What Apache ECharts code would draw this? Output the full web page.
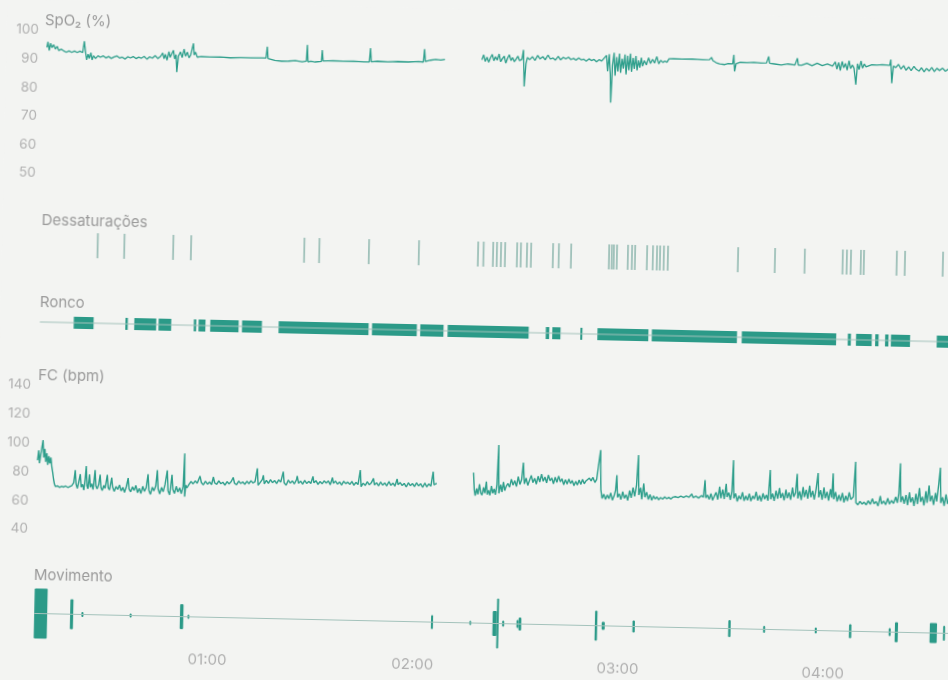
<!DOCTYPE html>
<html><head><meta charset="utf-8">
<script src="https://cdn.jsdelivr.net/npm/echarts@6/dist/echarts.min.js"></script>
<style>
html,body{margin:0;padding:0;background:#f3f4f2;overflow:hidden;width:948px;height:680px}
#chart{position:absolute;left:0;top:0;width:1000px;height:700px;transform:rotate(1.25deg);transform-origin:40px 340px}
</style></head><body><div id="chart"></div>
<script>
// time in minutes after 00:00
const timeTickValues = [60, 120, 180, 240];
const timeTickLabels = ['01:00', '02:00', '03:00', '04:00'];
const panelTitles = ['SpO\u2082 (%)', 'Dessaturações', 'Ronco', 'FC (bpm)', 'Movimento'];

const spo2Seg1 = [[9.3,94],[9.6,96],[10.0,93],[10.4,95.5],[10.8,94],[11.3,95],[11.8,93.5],[12.3,94.5],[12.8,93],[13.5,93.5],[14.2,93],[15.0,92.5],[15.8,93],[16.6,92.5],[17.4,93],[18.2,92.5],[19.0,93],[19.8,92.5],[20.2,96.5],[20.6,93],[21.0,90],[21.4,92],[21.8,90.5],[22.2,92.5],[22.6,90],[23.0,91.5],[23.6,90.5],[24.3,91.5],[25.0,91],[25.8,91.5],[26.6,90.8],[27.4,91.3],[28.2,90.7],[29.0,91.2],[29.8,91.6],[30.6,90.9],[31.4,91.2],[32.2,90.6],[33.0,91.4],[33.8,91.0],[34.6,91.5],[35.4,90.8],[36.2,91.3],[37.0,91.0],[37.8,91.6],[38.6,90.7],[39.4,91.5],[40.2,91.1],[41.0,92.0],[41.8,91.0],[42.6,91.8],[43.2,93.0],[43.6,91.0],[44.0,92.5],[44.5,90.5],[45.0,93.5],[45.4,91.5],[45.9,92.0],[46.3,94.0],[46.7,91.0],[47.1,92.5],[47.4,86.4],[47.8,92.0],[48.4,93.5],[48.9,91.5],[49.4,94.5],[49.9,92.0],[50.4,93.5],[50.9,91.5],[51.4,92.5],[51.9,92.0],[52.1,96.6],[52.4,92.5],[52.8,93.5],[53.3,91.8],[54.5,92.0],[57.0,91.9],[60.0,92.0],[63.0,91.8],[66.0,91.9],[69.0,91.9],[72.0,92.0],[73.4,92.0],[73.7,96.0],[74.0,91.8],[76.0,91.2],[78.0,91.0],[80.0,91.1],[82.0,91.3],[84.0,91.0],[85.2,91.2],[85.4,96.9],[85.7,91.0],[86.5,91.2],[87.8,91.0],[89.6,91.2],[89.8,95.2],[90.1,91.4],[93.0,91.6],[96.0,91.5],[99.0,91.6],[102.0,91.4],[103.6,91.4],[103.9,96.2],[104.2,91.5],[106.0,91.7],[109.0,91.6],[112.0,91.8],[115.0,91.7],[118.0,91.9],[119.4,91.8],[119.7,96.3],[120.0,92.0],[121.5,92.5],[123.0,92.8],[124.5,92.6],[125.7,92.9]];

const spo2Seg2 = [[136.5,93.0],[137.0,94.8],[137.5,92.5],[138.0,94.0],[138.5,92.2],[139.0,93.8],[139.5,95.0],[140.0,92.8],[140.5,94.2],[141.0,93.0],[141.5,95.2],[142.0,92.5],[142.5,93.6],[143.0,94.5],[143.5,92.0],[144.0,93.8],[144.5,95.0],[145.0,93.0],[145.5,94.0],[146.0,92.6],[146.5,93.5],[147.0,94.6],[147.5,93.0],[148.2,93.5],[148.6,96.8],[149.0,84.0],[149.4,92.0],[149.8,94.2],[150.5,93.5],[151.3,94.5],[152.0,93.2],[152.8,95.0],[153.5,93.8],[154.3,94.6],[155.0,93.5],[155.8,95.2],[156.5,93.8],[157.3,94.2],[158.0,93.5],[158.8,94.8],[159.5,93.6],[160.3,94.5],[161.0,94.0],[161.8,94.6],[162.5,93.8],[163.3,94.2],[164.0,93.6],[164.8,94.4],[165.5,93.8],[166.3,94.0],[167.0,93.4],[167.8,94.2],[168.5,93.6],[169.3,94.0],[170.0,93.2],[170.8,94.0],[171.5,93.5],[172.9,95.5],[173.3,90.0],[173.7,96.0],[174.1,89.0],[174.4,79.0],[174.7,92.0],[175.1,96.5],[175.5,88.5],[175.9,95.0],[176.3,90.0],[176.7,96.2],[177.1,89.5],[177.5,94.5],[177.9,91.0],[178.3,96.0],[178.7,89.0],[179.1,95.5],[179.5,90.5],[179.9,96.3],[180.3,90.0],[180.7,94.8],[181.1,91.0],[181.5,95.5],[181.9,90.5],[182.3,94.0],[182.7,91.5],[183.1,95.0],[183.5,92.0],[184.0,94.0],[184.6,92.5],[185.2,95.0],[185.8,93.0],[186.4,94.5],[187.0,93.2],[187.6,95.5],[188.2,93.0],[188.8,94.2],[189.4,93.5],[190.0,94.0],[190.6,93.6],[191.2,94.8],[192.5,94.9],[195.0,94.8],[198.0,94.9],[201.0,94.7],[203.0,94.8],[203.6,95.6],[204.0,94.5],[205.0,93.8],[206.0,93.4],[207.5,93.2],[208.5,93.6],[209.8,93.5],[210.1,96.7],[210.4,90.9],[210.8,93.6],[212.0,94.1],[214.0,94.0],[216.0,94.2],[218.0,94.0],[219.7,94.1],[220.0,94.1],[220.3,96.4],[220.6,94.0],[222.0,93.8],[224.0,93.5],[226.0,93.9],[228.0,93.6],[228.4,93.6],[228.7,96.0],[229.0,93.6],[230.0,93.6],[231.5,94.3],[233.0,93.5],[234.5,94.4],[236.0,93.6],[237.5,94.2],[239.0,93.5],[239.8,95.0],[240.3,92.5],[240.8,94.8],[241.3,92.0],[241.8,95.2],[242.3,93.0],[242.8,94.5],[243.3,92.2],[243.8,95.5],[244.3,92.8],[244.8,94.0],[245.3,93.0],[245.9,87.2],[246.3,94.5],[246.8,92.5],[247.3,95.5],[247.8,93.0],[248.3,94.5],[248.8,93.5],[250.5,94.3],[252.0,94.2],[253.5,94.4],[254.8,94.3],[255.7,94.2],[256.0,96.2],[256.4,88.0],[256.8,94.0],[257.5,93.5],[258.3,94.6],[259.0,93.0],[259.8,94.2],[260.5,92.6],[261.3,93.8],[262.0,92.5],[262.8,94.0],[263.5,93.0],[264.3,92.4],[265.0,93.6],[265.8,92.2],[266.5,93.4],[267.3,92.5],[268.0,93.8],[268.8,92.4],[269.5,93.5],[270.3,92.8],[271.2,93.6],[272.0,92.6],[273.0,93.4],[274.0,92.8]];

const dessatTimes = [25.4,33.2,47.5,52.7,85.8,90.2,104.7,119.3,136.6,138.2,141.0,142.1,143.3,144.5,148.0,149.1,150.9,152.1,158.5,160.2,163.8,174.9,175.7,176.3,177.2,180.4,181.6,182.5,186.0,187.7,188.9,189.8,190.9,192.1,212.6,223.4,232.1,243.2,244.4,245.6,248.5,249.4,259.0,261.4,272.5];

const roncoSegments = [[18.9,24.7],[34.0,34.7],[36.6,43.0],[43.7,47.4],[54.0,54.7],[55.4,57.4],[58.8,67.1],[68.1,73.9],[78.8,105.1],[106.1,119.2],[120.2,127.0],[128.2,151.9],[156.9,157.9],[158.8,161.2],[167.0,167.6],[172.0,186.9],[187.9,212.8],[214.2,241.8],[245.2,246.1],[247.6,252.2],[253.2,254.2],[256.1,257.1],[257.8,263.4],[271.2,283.5]];
const roncoSpan = [9.0, 283.5];

const fcSeg1 = [[9.2,88],[9.5,95],[9.8,86],[10.1,92],[10.4,97],[10.7,102],[11.0,90],[11.3,96],[11.6,87],[11.9,93],[12.2,85],[12.5,91],[12.8,86],[13.1,90],[13.4,84],[13.7,80],[14.0,75],[14.3,71.5],[14.6,70],[15.2,70.5],[15.8,69.5],[16.4,70.2],[17.0,69.8],[17.6,70.5],[18.2,69.6],[18.8,70.3],[19.4,71],[19.9,73],[20.3,81.8],[20.6,72],[21.0,69],[21.4,74],[21.8,79],[22.1,70],[22.5,72],[22.9,68],[23.2,75],[23.5,84.7],[23.8,71],[24.1,69],[24.5,79],[24.8,70],[25.2,72.5],[25.6,68.5],[26.1,82],[26.4,71],[26.8,69],[27.2,72],[27.6,79],[27.9,70],[28.3,68],[28.7,71.5],[29.1,69.5],[29.7,79],[30.0,70],[30.4,68.5],[31.0,77],[31.3,70.5],[31.8,67.5],[32.3,71],[32.8,69],[33.3,72],[33.8,68],[34.3,70.5],[34.8,67],[35.3,71],[35.8,77],[36.1,69.5],[36.6,67.5],[37.1,71],[37.6,68.5],[38.1,72],[38.6,67],[39.1,70],[39.6,66.5],[40.1,71.5],[40.6,68],[41.1,70.5],[41.6,80],[41.9,69],[42.4,66],[42.9,71],[43.4,68.5],[43.9,72],[44.3,83],[44.6,70],[45.1,66.5],[45.6,71],[46.1,68],[46.6,73],[47.2,83],[47.5,69],[48.0,66],[48.6,80],[48.9,70],[49.4,67],[49.9,72],[50.4,68],[50.9,71],[51.4,67],[51.9,72],[52.2,95],[52.4,65],[52.7,73],[53.0,71],[53.6,73.5],[54.2,75.5],[54.8,74],[55.4,76],[56.0,74.5],[56.8,79.5],[57.2,75],[57.8,73.5],[58.4,76],[59.0,74],[59.6,75.5],[60.2,73.8],[60.7,79],[61.1,75],[61.7,74],[62.3,76.5],[62.9,74.5],[63.5,75.5],[64.1,73.5],[64.7,76],[65.3,74.5],[65.9,76],[66.5,79],[66.9,75],[67.5,74],[68.1,76.5],[68.7,75],[69.3,76],[69.9,74.5],[70.5,76.5],[71.1,75],[71.7,77],[72.3,75.5],[72.9,76.5],[73.5,85.7],[73.8,74],[74.4,76],[75.0,78],[75.3,81],[75.6,75],[76.2,77.5],[76.8,75.5],[77.4,78],[78.0,76],[78.6,77.5],[79.2,75.5],[79.8,78],[80.4,76.5],[81.1,83.8],[81.4,76],[82.0,74.5],[82.6,78],[83.2,76],[83.8,77.5],[84.4,75.5],[85.0,78.5],[85.2,81],[85.6,76],[86.2,77.5],[86.8,75.5],[87.4,78],[88.0,76],[88.6,77.5],[89.2,76],[89.8,81],[90.1,76.5],[90.7,78],[91.3,75.5],[91.9,77.5],[92.5,76],[93.1,78],[93.7,76.5],[94.3,78],[94.9,75.5],[95.5,80.5],[95.8,76.5],[96.4,78],[97.0,76],[97.6,77.5],[98.2,75.5],[98.8,78],[99.4,76.5],[100.0,77.5],[100.6,76],[101.2,78],[101.8,75.5],[102.4,77.5],[103.0,76],[103.6,86.1],[103.9,74.5],[104.5,77],[105.1,75.5],[105.7,78],[106.3,76],[106.9,77.5],[107.5,80.5],[107.8,76],[108.4,77.5],[109.0,75.5],[109.6,78],[110.2,76],[110.8,77.5],[111.4,75.5],[112.0,78.5],[112.6,76],[113.2,77.5],[113.8,75.5],[114.4,80.5],[114.7,76.5],[115.3,78],[115.9,76],[116.5,77.5],[117.1,75],[117.7,78],[118.3,76],[118.9,77.5],[119.5,75.5],[120.1,78],[120.7,76],[121.3,77.5],[121.9,75],[122.5,78],[123.1,75.5],[123.7,77.5],[124.3,76],[124.9,86],[125.2,77],[125.6,76.5],[126.0,78]];

const fcSeg2 = [[136.7,86],[137.0,74],[137.3,70],[137.7,75],[138.1,71],[138.5,78],[138.9,72],[139.3,70.5],[139.7,76],[140.1,72],[140.5,80],[140.8,71],[141.2,74],[141.6,70.5],[142.0,77],[142.4,72],[142.8,75],[143.2,71],[143.6,78],[143.9,105.5],[144.2,72],[144.7,78],[145.1,73],[145.5,80],[145.9,74],[146.3,77],[146.8,79],[147.3,76.5],[147.8,82],[148.3,78],[148.8,81],[149.3,77],[149.8,84],[150.3,78.5],[150.8,82],[151.2,93.7],[151.6,79],[152.1,83],[152.6,78],[153.1,81.5],[153.6,85],[154.1,80],[154.6,83],[155.1,79],[155.6,84.5],[156.1,80.5],[156.6,86],[157.1,81],[157.6,84],[158.1,80],[158.6,85.5],[159.1,81.5],[159.6,83.5],[160.1,79.5],[160.6,84],[161.1,80.5],[161.6,85],[162.1,81],[162.6,83],[163.1,79],[163.6,82.5],[164.1,79.5],[164.6,83],[165.1,80],[165.6,82],[166.1,78.5],[166.6,81.5],[167.1,79],[167.6,82.5],[168.1,79.5],[168.6,83],[169.1,80],[169.6,82],[170.1,81],[170.6,84],[171.1,82],[171.6,84.5],[172.2,81],[172.7,83],[173.2,84],[173.7,103.6],[174.0,76],[174.4,70],[174.9,73],[175.4,69.5],[175.9,72.5],[176.4,70],[176.9,74],[177.4,69],[177.9,72],[178.3,76],[178.6,86.5],[178.9,71],[179.4,73.5],[179.9,69.5],[180.4,75],[180.9,70.5],[181.4,73],[181.9,69],[182.4,76],[182.9,71],[183.4,78],[183.9,72],[184.4,80],[184.8,100.7],[185.1,73],[185.6,78],[186.0,70],[186.5,81],[186.9,71.5],[187.4,75],[187.9,70],[188.4,73.5],[188.9,69.5],[189.4,72.5],[189.9,70.5],[190.4,72],[190.9,70],[191.5,71.5],[192.1,70.5],[192.7,72],[193.3,70.8],[193.9,71.8],[194.5,70.6],[195.1,72],[195.8,72.4],[196.6,71.8],[197.4,72.8],[198.2,72],[199.0,73],[199.8,72.2],[200.6,74.5],[201.0,72],[201.8,73],[202.6,71.8],[203.4,73.5],[204.0,72.5],[204.4,84.4],[204.7,72],[205.2,74],[205.7,71],[206.2,75],[206.7,70.5],[207.2,73.5],[207.7,76],[208.2,71],[208.7,80],[209.1,72],[209.6,78],[210.1,71.5],[210.6,82],[210.9,73],[211.4,76],[211.9,71],[212.3,77],[212.6,98.6],[212.9,72],[213.4,75.5],[213.9,70],[214.4,74],[214.9,71.5],[215.4,76.5],[215.9,70.5],[216.4,74],[216.9,71],[217.4,75.5],[217.9,70.5],[218.4,74],[218.9,72],[219.4,77],[219.9,71],[220.4,74.5],[220.9,70.5],[221.4,76],[221.9,72],[222.4,75],[222.9,71],[223.4,92.4],[223.7,72],[224.2,76],[224.7,71],[225.2,78],[225.7,72.5],[226.2,80],[226.6,73],[227.1,76.5],[227.6,71.5],[228.1,79],[228.5,73],[229.0,77],[229.5,72],[230.0,80.5],[230.4,74],[230.9,77],[231.3,90],[231.6,73],[232.1,78],[232.6,72],[233.1,81],[233.5,74],[234.0,79],[234.5,73],[235.0,82],[235.4,74],[235.9,78.5],[236.4,72.5],[236.9,80],[237.4,91],[237.7,74],[238.2,79],[238.7,72.5],[239.2,81],[239.6,73.5],[240.1,78],[240.6,72],[241.1,80],[241.5,74],[241.8,91],[242.1,73],[242.6,78],[243.1,71.5],[243.6,76],[244.1,72],[244.6,77.5],[245.1,71],[245.6,75.5],[246.1,72],[246.6,78],[247.1,73],[247.8,75],[248.3,99.3],[248.6,71],[249.2,69.5],[249.8,72],[250.4,70],[251.0,71.5],[251.6,69.5],[252.2,72.5],[252.8,70],[253.4,74],[253.9,70.5],[254.5,72],[255.1,69],[255.7,76],[256.1,70.5],[256.7,72.5],[257.3,70],[257.9,74.5],[258.4,70.5],[259.0,73],[259.6,71],[260.2,75.5],[260.7,71.5],[261.1,78],[261.4,99],[261.7,72],[262.2,76],[262.7,71],[263.2,77],[263.7,70],[264.2,79],[264.6,72],[265.1,75.5],[265.6,69.5],[266.1,78],[266.6,71],[267.1,82],[267.5,72.5],[268.0,76],[268.5,70],[269.0,80],[269.4,72],[269.9,84],[270.3,73],[270.8,77],[271.3,70.5],[271.8,79],[272.2,73],[272.7,85],[273.1,96.5],[273.4,72],[273.9,76],[274.4,70],[274.9,78],[275.4,71.5],[275.9,75],[276.5,70],[277.0,74]];

// [start, end, half-amplitude]
const movimentoEvents = [[9.2,13.0,25],[19.7,20.6,15],[23.0,23.6,2.5],[37.1,37.6,2],[51.8,52.8,12.5],[54.0,54.4,2],[125.2,125.8,7],[136.4,136.9,2],[143.2,144.4,12.5],[144.4,144.9,25],[146.0,146.6,3],[150.2,150.8,4],[150.8,151.6,6.5],[173.1,173.8,15],[175.1,176.0,4],[184.1,184.8,6],[212.1,212.8,8.5],[222.3,222.8,3.5],[237.4,237.9,3],[247.4,248.1,7],[259.0,259.6,4],[260.8,261.7,10],[271.0,273.1,10],[274.9,275.2,7.5]];
const movimentoSpan = [9.2, 283.5];

const X_MIN = 9.15, X_MAX = 283.9;
const TEAL = '#2f9f8c', BAR = '#2b9a88', THIN = '#a3c2bb', TICK = '#8ab4ab';
const LABEL = '#b0b0b0', TITLE = '#9a9a9a';
const FONT = 'Inter, "Open Sans", sans-serif';

const grids = [
  {left: 40, width: 940, top: 30.3, height: 142.9},
  {left: 40, width: 940, top: 232, height: 25},
  {left: 40, width: 940, top: 316, height: 12},
  {left: 40, width: 940, top: 385.4, height: 144},
  {left: 40, width: 940, top: 583.5, height: 60}
];
const titlePos = [[38, 20], [39, 220], [39, 302], [39, 375], [39, 575]];

const xAxes = grids.map((g, i) => ({
  type: 'value', gridIndex: i, min: X_MIN, max: X_MAX,
  show: i === 4,
  axisLine: {show: false}, axisTick: {show: false}, splitLine: {show: false},
  axisLabel: {
    customValues: timeTickValues,
    formatter: v => timeTickLabels[timeTickValues.indexOf(v)] || '',
    color: LABEL, fontSize: 15, margin: 5, fontFamily: FONT
  }
}));

const yLab = {color: LABEL, fontSize: 13.5, margin: 8, fontFamily: FONT};
const yAxes = [
  {type: 'value', gridIndex: 0, min: 50, max: 100, interval: 10, axisLine: {show: false}, axisTick: {show: false}, splitLine: {show: false}, axisLabel: yLab},
  {type: 'value', gridIndex: 1, min: 0, max: 1, show: false},
  {type: 'value', gridIndex: 2, min: 0, max: 1, show: false},
  {type: 'value', gridIndex: 3, min: 40, max: 140, interval: 20, axisLine: {show: false}, axisTick: {show: false}, splitLine: {show: false}, axisLabel: yLab},
  {type: 'value', gridIndex: 4, min: -30, max: 30, show: false}
];

function lineSeries(data, idx, w) {
  return {type: 'line', xAxisIndex: idx, yAxisIndex: idx, data: data, showSymbol: false, symbol: 'none',
    lineStyle: {color: TEAL, width: w}, silent: true, animation: false};
}

const series = [
  lineSeries(spo2Seg1, 0, 1.3),
  lineSeries(spo2Seg2, 0, 1.3),
  {type: 'scatter', xAxisIndex: 1, yAxisIndex: 1, data: dessatTimes.map(t => [t, 0.5]),
   symbol: 'rect', symbolSize: [1.8, 25], itemStyle: {color: TICK}, silent: true, animation: false},
  {type: 'line', xAxisIndex: 2, yAxisIndex: 2, data: [[roncoSpan[0], 0.5], [roncoSpan[1], 0.5]],
   showSymbol: false, symbol: 'none', lineStyle: {color: THIN, width: 1}, silent: true, animation: false},
  {type: 'custom', xAxisIndex: 2, yAxisIndex: 2, data: roncoSegments, encode: {x: [0, 1]}, animation: false, silent: true,
   renderItem: (params, api) => {
     const a = api.coord([api.value(0), 1]);
     const b = api.coord([api.value(1), 0]);
     return {type: 'rect', shape: {x: a[0], y: a[1], width: Math.max(b[0] - a[0], 1.6), height: b[1] - a[1]}, style: {fill: BAR}};
   }},
  lineSeries(fcSeg1, 3, 1.4),
  lineSeries(fcSeg2, 3, 1.4),
  {type: 'line', xAxisIndex: 4, yAxisIndex: 4, data: [[movimentoSpan[0], 0], [movimentoSpan[1], 0]],
   showSymbol: false, symbol: 'none', lineStyle: {color: THIN, width: 1}, silent: true, animation: false},
  {type: 'custom', xAxisIndex: 4, yAxisIndex: 4, data: movimentoEvents, encode: {x: [0, 1], y: 2}, animation: false, silent: true,
   renderItem: (params, api) => {
     const h = api.value(2);
     const a = api.coord([api.value(0), h]);
     const b = api.coord([api.value(1), -h]);
     return {type: 'rect', shape: {x: a[0], y: a[1], width: Math.max(b[0] - a[0], 2), height: b[1] - a[1], r: 1}, style: {fill: BAR}};
   }}
];

const graphic = panelTitles.map((t, i) => ({
  type: 'text', x: titlePos[i][0], y: titlePos[i][1], silent: true,
  style: {text: t, fill: TITLE, fontSize: 15, fontFamily: FONT, verticalAlign: 'middle', align: 'left'}
}));

const chart = echarts.init(document.getElementById('chart'), null, {renderer: 'canvas'});
chart.setOption({
  backgroundColor: '#f3f4f2',
  animation: false,
  grid: grids,
  xAxis: xAxes,
  yAxis: yAxes,
  series: series,
  graphic: graphic
});
</script></body></html>
